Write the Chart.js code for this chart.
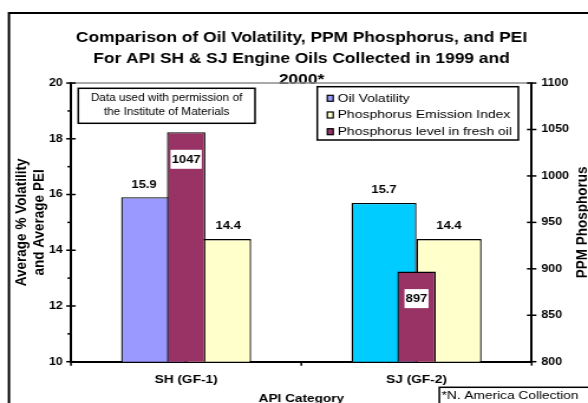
<!DOCTYPE html>
<html><head><meta charset="utf-8">
<script src="https://cdn.jsdelivr.net/npm/chart.js@4/dist/chart.umd.min.js"></script>
<style>
html,body{margin:0;padding:0;background:#fff;overflow:hidden;}
#wrap{width:588px;height:403px;overflow:hidden;position:relative;background:#fff;}
#c{position:absolute;left:0;top:0;transform:scaleX(1.1807);transform-origin:0 0;}
</style></head><body>
<div id="wrap"><canvas id="c" width="498" height="403"></canvas></div>
<script>
const categories = ['SH (GF-1)', 'SJ (GF-2)'];
const oilVolatility = [15.9, 15.7];
const phosphorusEmissionIndex = [14.4, 14.4];
const phosphorusPPM = [1047, 897];
const seriesNames = ['Oil Volatility', 'Phosphorus Emission Index', 'Phosphorus level in fresh oil'];
const titleLines = ['Comparison of Oil Volatility, PPM Phosphorus, and PEI', 'For API SH & SJ Engine Oils Collected in 1999 and', '2000*'];
const leftAxisTitle = ['Average % Volatility', 'and Average PEI'];
const rightAxisTitle = 'PPM Phosphorus';
const xAxisTitle = 'API Category';
const noteLines = ['Data used with permission of', 'the Institute of Materials'];
const footnote = '*N. America Collection';

const volColors = ['#9999FF', '#00CCFF'];
const peiColor = '#FFFFCC';
const phosColor = '#993366';
const FONT = "'Liberation Sans', Arial, sans-serif";

function line(ctx, x1, y1, x2, y2) { ctx.beginPath(); ctx.moveTo(x1, y1); ctx.lineTo(x2, y2); ctx.stroke(); }

const deco = {
  id: 'deco',
  beforeDraw(chart) {
    const ctx = chart.ctx;
    ctx.save();
    ctx.fillStyle = '#fff';
    ctx.fillRect(0, 0, chart.width, chart.height);
    ctx.strokeStyle = '#000';
    ctx.lineWidth = 2;
    ctx.strokeRect(7.6, 13, chart.width + 40, chart.height + 40);
    ctx.restore();
  },
  beforeDatasetsDraw(chart) {
    const { ctx, chartArea: a } = chart;
    ctx.save();
    ctx.strokeStyle = '#8c8c8c';
    ctx.lineWidth = 1.5;
    line(ctx, a.left, a.top, a.right, a.top);
    ctx.restore();
  },
  afterDraw(chart) {
    const { ctx, chartArea: a } = chart;
    const y = chart.scales.y, y1 = chart.scales.y1, x = chart.scales.x;
    ctx.save();
    ctx.strokeStyle = '#000';
    ctx.lineWidth = 1.5;
    const yt = y.ticks.map(t => t.value);
    yt.forEach((v, i) => {
      const py = y.getPixelForValue(v);
      line(ctx, a.left - 4, py, a.left + 4, py);
      if (i < yt.length - 1) {
        const pm = y.getPixelForValue((v + yt[i + 1]) / 2);
        line(ctx, a.left - 3, pm, a.left, pm);
      }
    });
    y1.ticks.forEach(t => {
      const py = y1.getPixelForValue(t.value);
      line(ctx, a.right - 4, py, a.right + 4, py);
    });
    for (let i = 0; i <= categories.length; i++) {
      const px = x.getPixelForValue(i - 0.5);
      line(ctx, px, a.bottom, px, a.bottom + 4);
    }

    const metaP = chart.getDatasetMeta(2);
    ctx.font = 'bold 11px ' + FONT;
    ctx.textAlign = 'center';
    ctx.textBaseline = 'middle';
    ctx.fillStyle = '#000';
    [0, 1].forEach(di => {
      const meta = chart.getDatasetMeta(di);
      meta.data.forEach((bar, i) => {
        const p = metaP.data[i];
        let l = bar.x - bar.width / 2, r = bar.x + bar.width / 2;
        if (p.y < bar.y) {
          const pl = p.x - p.width / 2, pr = p.x + p.width / 2;
          if (pl > l && pl < r) r = pl; else if (pr > l && pr < r) l = pr;
        }
        const val = chart.data.datasets[di].data[i];
        ctx.fillText(val.toFixed(1), (l + r) / 2, bar.y - 12.7);
      });
    });
    metaP.data.forEach((p, i) => {
      const txt = String(chart.data.datasets[2].data[i]);
      const w = ctx.measureText(txt).width + 2;
      const cy = p.y + 27;
      ctx.fillStyle = '#fff';
      ctx.fillRect(p.x - w / 2, cy - 9.5, w, 19);
      ctx.fillStyle = '#000';
      ctx.fillText(txt, p.x, cy + 0.5);
    });

    ctx.save();
    ctx.translate(493.5, (a.top + a.bottom) / 2);
    ctx.rotate(-Math.PI / 2);
    ctx.font = 'bold 13.5px ' + FONT;
    ctx.fillText(rightAxisTitle, 0, 0);
    ctx.restore();

    ctx.fillStyle = '#fff';
    ctx.fillRect(66.3, 88.3, 149.7, 35);
    ctx.strokeStyle = '#000';
    ctx.lineWidth = 1.5;
    ctx.strokeRect(66.3, 88.3, 149.7, 35);
    ctx.fillStyle = '#000';
    ctx.font = '10px ' + FONT;
    ctx.fillText(noteLines[0], 141.1, 98.5);
    ctx.fillText(noteLines[1], 141.1, 112.5);

    const lx = 268.7, ly = 86.7, lw = 170.3, lh = 53.3;
    ctx.fillStyle = '#fff';
    ctx.fillRect(lx, ly, lw, lh);
    ctx.font = '11.8px ' + FONT;
    ctx.textAlign = 'left';
    chart.data.datasets.forEach((ds, i) => {
      const cy = ly + 11.6 + i * 16.7;
      const col = Array.isArray(ds.backgroundColor) ? ds.backgroundColor[0] : ds.backgroundColor;
      ctx.fillStyle = col;
      ctx.fillRect(277.2, cy - 3, 5, 6);
      ctx.lineWidth = 1.2;
      ctx.strokeStyle = '#000';
      ctx.strokeRect(277.2, cy - 3, 5, 6);
      ctx.fillStyle = '#000';
      ctx.fillText(ds.label, 286, cy);
    });
    ctx.lineWidth = 1.5;
    ctx.strokeRect(lx, ly, lw, lh);

    ctx.fillStyle = '#fff';
    ctx.fillRect(372.1, 387.3, 200, 40);
    ctx.strokeRect(372.1, 387.3, 200, 40);
    ctx.fillStyle = '#000';
    ctx.font = '11.6px ' + FONT;
    ctx.fillText(footnote, 374, 396);
    ctx.restore();
  }
};

new Chart(document.getElementById('c'), {
  type: 'bar',
  data: {
    labels: categories,
    datasets: [
      { label: seriesNames[0], data: oilVolatility, backgroundColor: volColors, borderColor: '#000', borderWidth: 1.3,
        yAxisID: 'y', order: 1, categoryPercentage: 0.5644, barPercentage: 1 },
      { label: seriesNames[1], data: phosphorusEmissionIndex, backgroundColor: peiColor, borderColor: '#000', borderWidth: 1.3,
        yAxisID: 'y', order: 2, categoryPercentage: 0.5644, barPercentage: 1 },
      { label: seriesNames[2], data: phosphorusPPM, backgroundColor: phosColor, borderColor: '#000', borderWidth: 1.3,
        yAxisID: 'y1', order: 0, grouped: false, categoryPercentage: 0.1667, barPercentage: 1 }
    ]
  },
  options: {
    responsive: false,
    animation: false,
    devicePixelRatio: 1,
    layout: { padding: { left: 12.8, right: 0, top: 0, bottom: 0 } },
    plugins: {
      legend: { display: false },
      tooltip: { enabled: false },
      title: {
        display: true, text: titleLines, color: '#000',
        font: { family: FONT, size: 14.7, weight: 'bold', lineHeight: 1.43 },
        padding: { top: 27.5, bottom: -7.5 }
      }
    },
    scales: {
      x: {
        offset: true,
        grid: { display: true, drawOnChartArea: false, drawTicks: false },
        border: { display: true, color: '#000', width: 2 },
        ticks: { color: '#000', font: { family: FONT, size: 11.6, weight: 'bold' }, padding: 11, maxRotation: 0 },
        title: { display: true, text: xAxisTitle, color: '#000', font: { family: FONT, size: 11.5, weight: 'bold' }, padding: { top: 0, bottom: -2.4 } },
        afterFit(s) { s.height = 41.3; }
      },
      y: {
        position: 'left', min: 10, max: 20,
        ticks: { stepSize: 2, color: '#000', font: { family: FONT, size: 10.5, weight: 'bold' }, padding: 7, callback: v => String(v) },
        grid: { display: true, drawOnChartArea: false, drawTicks: false },
        border: { display: true, color: '#000', width: 2 },
        title: { display: true, text: leftAxisTitle, color: '#000', font: { family: FONT, size: 13.5, weight: 'bold', lineHeight: 1.1 }, padding: { top: -1.5, bottom: 0 } },
        afterFit(s) { s.width = 47.3; }
      },
      y1: {
        position: 'right', min: 800, max: 1100,
        ticks: { stepSize: 50, color: '#000', font: { family: FONT, size: 10.5, weight: 'bold' }, padding: 8.2, callback: v => String(v) },
        grid: { display: true, drawOnChartArea: false, drawTicks: false },
        border: { display: true, color: '#000', width: 2 },
        afterFit(s) { s.width = 47.7; }
      }
    }
  },
  plugins: [deco]
});
</script>
</body></html>
